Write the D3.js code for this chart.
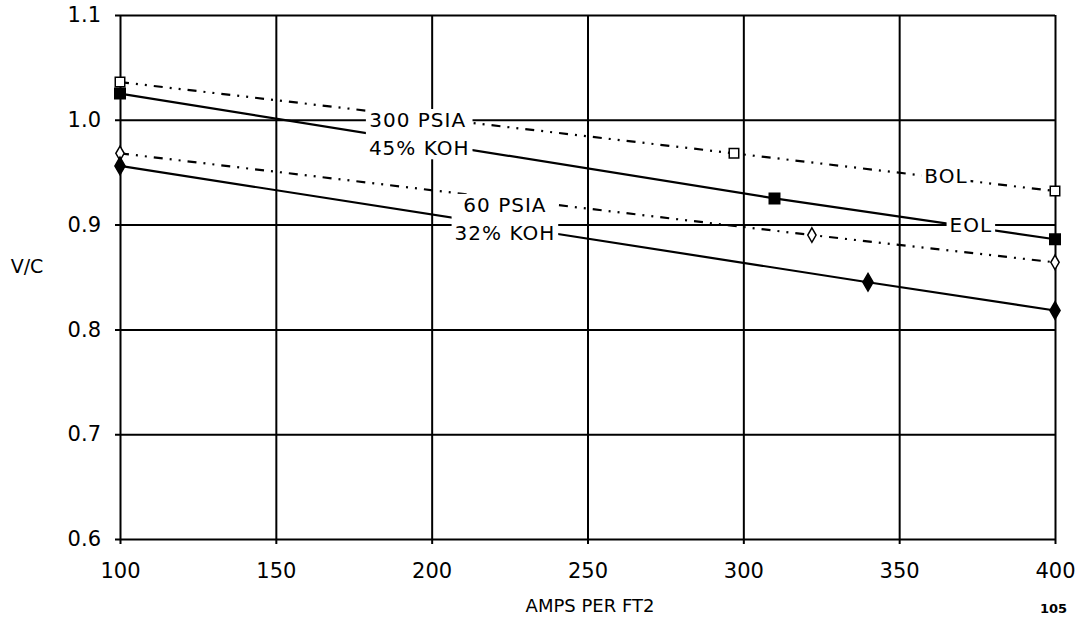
<!DOCTYPE html>
<html>
<head>
<meta charset="utf-8">
<script src="https://cdn.jsdelivr.net/npm/d3@7"></script>
<style>
  html, body { margin: 0; padding: 0; background: #fff; }
  svg { display: block; }
  text { font-family: "DejaVu Sans", "Liberation Sans", sans-serif; fill: #000; }
</style>
</head>
<body>
<svg id="chart" width="1080" height="619"></svg>
<script>
// ---- data ----
const xTicks = [100, 150, 200, 250, 300, 350, 400];
const yTicks = [0.6, 0.7, 0.8, 0.9, 1.0, 1.1];
const yTickLabels = ["0.6", "0.7", "0.8", "0.9", "1.0", "1.1"];

const bol300X = [100, 297, 400];
const bol300Y = [1.036, 0.968, 0.932];
const eol300X = [100, 310, 400];
const eol300Y = [1.025, 0.925, 0.886];
const bol60X = [100, 322, 400];
const bol60Y = [0.968, 0.890, 0.864];
const eol60X = [100, 340, 400];
const eol60Y = [0.956, 0.845, 0.818];

const seriesNames = ["BOL 300 PSIA", "EOL 300 PSIA", "BOL 60 PSIA", "EOL 60 PSIA"];

// annotation blocks (data coordinates)
const labelBlocks = [
  { lines: ["300 PSIA", "45% KOH"], x: [195.5, 196], y: [1.0, 0.973] },
  { lines: ["60 PSIA", "32% KOH"], x: [223.5, 223.5], y: [0.919, 0.892] },
  { lines: ["BOL"], x: [365], y: [0.947] },
  { lines: ["EOL"], x: [373], y: [0.900] }
];

// ---- layout ----
const svg = d3.select("#chart");
const x0 = 120, x1 = 1055, yTop = 15, yBot = 539;
const x = d3.scaleLinear().domain([100, 400]).range([x0, x1]);
const y = d3.scaleLinear().domain([0.6, 1.1]).range([yBot, yTop]);

// gridlines + ticks via axes
const yAxis = d3.axisLeft(y)
  .tickValues(yTicks)
  .tickFormat((d, i) => yTickLabels[i])
  .tickSizeInner(-(x1 - x0) - 5)
  .tickSizeOuter(0)
  .tickPadding(14);
const gy = svg.append("g").attr("transform", `translate(${x0 - 5},0)`).call(yAxis);
gy.select(".domain").remove();
gy.selectAll(".tick line").attr("stroke", "#000").attr("stroke-width", 2);
gy.selectAll(".tick text").attr("font-size", 21).attr("font-family", "DejaVu Sans");

const xAxis = d3.axisBottom(x)
  .tickValues(xTicks)
  .tickFormat(d3.format("d"))
  .tickSizeInner(-(yBot - yTop) - 5)
  .tickSizeOuter(0)
  .tickPadding(19);
const gx = svg.append("g").attr("transform", `translate(0,${yBot + 5})`).call(xAxis);
gx.select(".domain").remove();
gx.selectAll(".tick line").attr("stroke", "#000").attr("stroke-width", 2);
gx.selectAll(".tick text").attr("font-size", 21).attr("font-family", "DejaVu Sans");

// axis titles
svg.append("text").attr("x", 27).attr("y", 266).attr("text-anchor", "middle")
  .attr("dy", "0.35em").attr("font-size", 19).text("V/C");
svg.append("text").attr("x", 590).attr("y", 606).attr("text-anchor", "middle")
  .attr("dy", "0.35em").attr("font-size", 18).text("AMPS PER FT2");
svg.append("text").attr("x", 1040).attr("y", 613)
  .attr("font-size", 13).attr("font-weight", "bold")
  .attr("font-family", "DejaVu Sans Mono").text("105");

// series lines
const series = [
  { xs: bol300X, ys: bol300Y, dash: "9,7,2,7,2,7", sym: d3.symbolSquare, size: 90, fill: "#fff" },
  { xs: eol300X, ys: eol300Y, dash: null, sym: d3.symbolSquare, size: 110, fill: "#000" },
  { xs: bol60X, ys: bol60Y, dash: "9,7,2,7,2,7", sym: d3.symbolDiamond, size: 60, fill: "#fff" },
  { xs: eol60X, ys: eol60Y, dash: null, sym: d3.symbolDiamond, size: 90, fill: "#000" }
];
const line = d3.line().x(d => x(d[0])).y(d => y(d[1]));

series.forEach((s, i) => {
  const pts = s.xs.map((v, j) => [v, s.ys[j]]);
  svg.append("path")
    .datum(pts)
    .attr("d", line)
    .attr("fill", "none")
    .attr("stroke", "#000")
    .attr("stroke-width", 2.2)
    .attr("stroke-dasharray", s.dash)
    .attr("data-name", seriesNames[i]);
});

// labels with white background
labelBlocks.forEach(b => {
  const g = svg.append("g");
  const rect = g.append("rect").attr("fill", "#fff");
  b.lines.forEach((t, i) => {
    g.append("text")
      .attr("x", x(b.x[i])).attr("y", y(b.y[i]))
      .attr("text-anchor", "middle").attr("dy", "0.36em")
      .attr("font-size", 20).attr("letter-spacing", 1)
      .text(t);
  });
  const bb = g.node().getBBox();
  rect.attr("x", bb.x - 3).attr("y", bb.y + 1).attr("width", bb.width + 6).attr("height", bb.height - 2);
});

// markers on top
series.forEach(s => {
  svg.append("g").selectAll("path")
    .data(s.xs.map((v, j) => [v, s.ys[j]]))
    .join("path")
    .attr("transform", d => `translate(${x(d[0])},${y(d[1])})`)
    .attr("d", d3.symbol().type(s.sym).size(s.size))
    .attr("fill", s.fill)
    .attr("stroke", "#000")
    .attr("stroke-width", 1.5);
});
</script>
</body>
</html>
